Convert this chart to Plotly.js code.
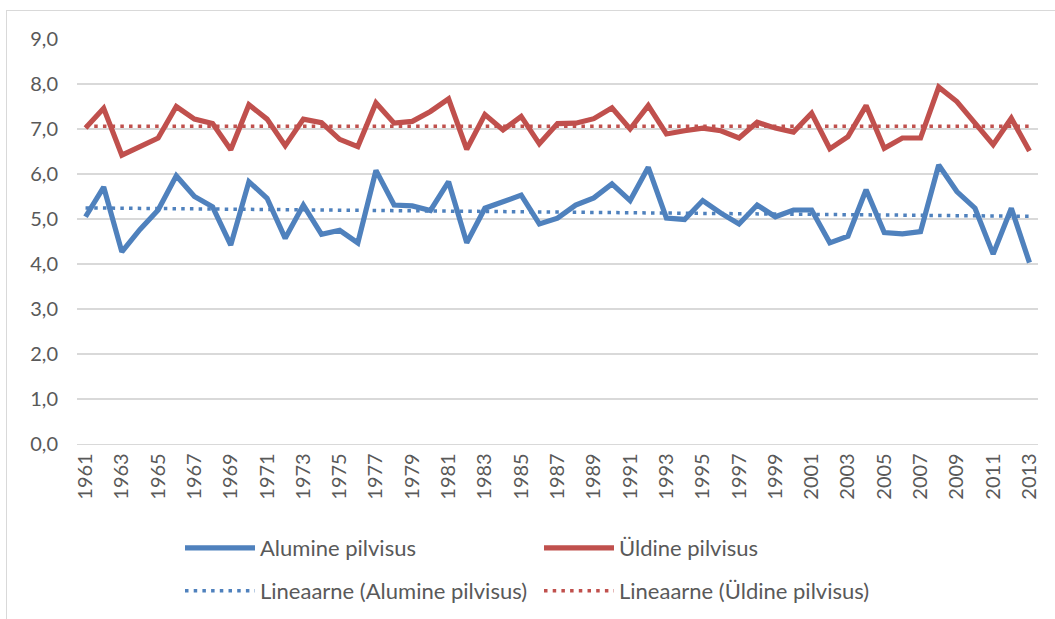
<!DOCTYPE html>
<html>
<head>
<meta charset="utf-8">
<script src="https://cdn.plot.ly/plotly-3.0.1.min.js"></script>
<style>
  html, body { margin: 0; padding: 0; background: #ffffff; }
  #wrap { position: relative; width: 1055px; height: 619px; overflow: hidden; }
  #chart { position: absolute; left: 0; top: 0; width: 1055px; height: 619px; }
  #frame { position: absolute; left: 6px; top: 10px; width: 1100px; height: 700px;
           border-left: 1.5px solid #D9D9D9; border-top: 1.5px solid #D9D9D9; pointer-events: none; }
</style>
</head>
<body>
<div id="wrap">
  <div id="chart"></div>
  <div id="frame"></div>
</div>
<script>
// ---- data ----
const years = [];
for (let y = 1961; y <= 2013; y++) years.push(y);

const alumine = [
  5.05, 5.71, 4.27, 4.77, 5.20, 5.96, 5.50, 5.27, 4.42, 5.83,
  5.46, 4.57, 5.31, 4.66, 4.75, 4.47, 6.08, 5.31, 5.29, 5.19,
  5.83, 4.47, 5.24, 5.40, 5.53, 4.89, 5.02, 5.31, 5.47, 5.78,
  5.41, 6.15, 5.02, 4.99, 5.41, 5.13, 4.89, 5.31, 5.05, 5.20,
  5.20, 4.47, 4.62, 5.65, 4.70, 4.67, 4.72, 6.20, 5.61, 5.24,
  4.22, 5.24, 4.03
];

const yldine = [
  7.02, 7.46, 6.42, 6.60, 6.80, 7.50, 7.22, 7.12, 6.54, 7.54,
  7.22, 6.63, 7.22, 7.14, 6.77, 6.61, 7.58, 7.13, 7.17, 7.39,
  7.67, 6.55, 7.32, 6.98, 7.28, 6.67, 7.12, 7.13, 7.23, 7.47,
  7.00, 7.52, 6.89, 6.96, 7.02, 6.96, 6.80, 7.15, 7.02, 6.93,
  7.35, 6.56, 6.83, 7.52, 6.57, 6.80, 6.80, 7.93, 7.61, 7.13,
  6.65, 7.24, 6.51
];

const seriesNames = ["Alumine pilvisus", "Üldine pilvisus"];
const trendNames = ["Lineaarne (Alumine pilvisus)", "Lineaarne (Üldine pilvisus)"];
const tickYears = years.filter((y, i) => i % 2 === 0);
const tickLabels = tickYears.map(String);

// least-squares linear trend (as the spreadsheet's "Lineaarne" trendline)
function linearTrend(xs, ys) {
  const n = xs.length;
  let sx = 0, sy = 0, sxx = 0, sxy = 0;
  for (let i = 0; i < n; i++) { sx += xs[i]; sy += ys[i]; sxx += xs[i]*xs[i]; sxy += xs[i]*ys[i]; }
  const b = (n*sxy - sx*sy) / (n*sxx - sx*sx);
  const a = (sy - b*sx) / n;
  return xs.map(x => a + b*x);
}

const BLUE = "#4F81BD", RED = "#C0504D", TXT = "#595959", GRID = "#D9D9D9";
const FONT = "Lato, 'Open Sans', sans-serif";

const traces = [
  { x: years, y: alumine, name: seriesNames[0], type: "scatter", mode: "lines",
    line: { color: BLUE, width: 5.2, shape: "linear" }, legend: "legend" },
  { x: years, y: yldine, name: seriesNames[1], type: "scatter", mode: "lines",
    line: { color: RED, width: 5.2, shape: "linear" }, legend: "legend" },
  { x: years, y: linearTrend(years, alumine), name: trendNames[0], type: "scatter", mode: "lines",
    line: { color: BLUE, width: 3.5, dash: "3.5px,5.2px" }, legend: "legend2" },
  { x: years, y: linearTrend(years, yldine), name: trendNames[1], type: "scatter", mode: "lines",
    line: { color: RED, width: 3.5, dash: "3.5px,5.2px" }, legend: "legend2" }
];

const legendCommon = {
  orientation: "h",
  xref: "container", yref: "container",
  xanchor: "left", yanchor: "middle",
  font: { family: FONT, size: 22, color: TXT },
  bgcolor: "rgba(0,0,0,0)",
  itemwidth: 70,
  entrywidth: 274, entrywidthmode: "pixels",
  traceorder: "normal",
  itemclick: false, itemdoubleclick: false
};

const layout = {
  width: 1055, height: 619,
  paper_bgcolor: "#ffffff", plot_bgcolor: "#ffffff",
  margin: { l: 77, r: 17, t: 39, b: 175, pad: 0 },
  separators: ", ",
  font: { family: FONT, size: 20, color: TXT },
  showlegend: true,
  xaxis: {
    type: "linear",
    range: [1960.53, 2013.47],
    tickmode: "array", tickvals: tickYears, ticktext: tickLabels,
    tickangle: -90,
    tickfont: { family: FONT, size: 20, color: TXT },
    showgrid: false, zeroline: false,
    showline: true, linecolor: GRID, linewidth: 1.3,
    ticks: "", fixedrange: true
  },
  yaxis: {
    range: [0, 9], dtick: 1, tick0: 0,
    tickformat: ".1f",
    tickfont: { family: FONT, size: 20, color: TXT },
    showgrid: true, gridcolor: GRID, gridwidth: 1.3,
    zeroline: false, showline: false,
    ticks: "", ticklabelstandoff: 18, fixedrange: true
  },
  legend: Object.assign({}, legendCommon, { x: 180/1055, y: 1 - 548/619 }),
  legend2: Object.assign({}, legendCommon, { x: 180/1055, y: 1 - 591/619 })
};

Plotly.newPlot("chart", traces, layout, { staticPlot: true, displayModeBar: false });
</script>
</body>
</html>
